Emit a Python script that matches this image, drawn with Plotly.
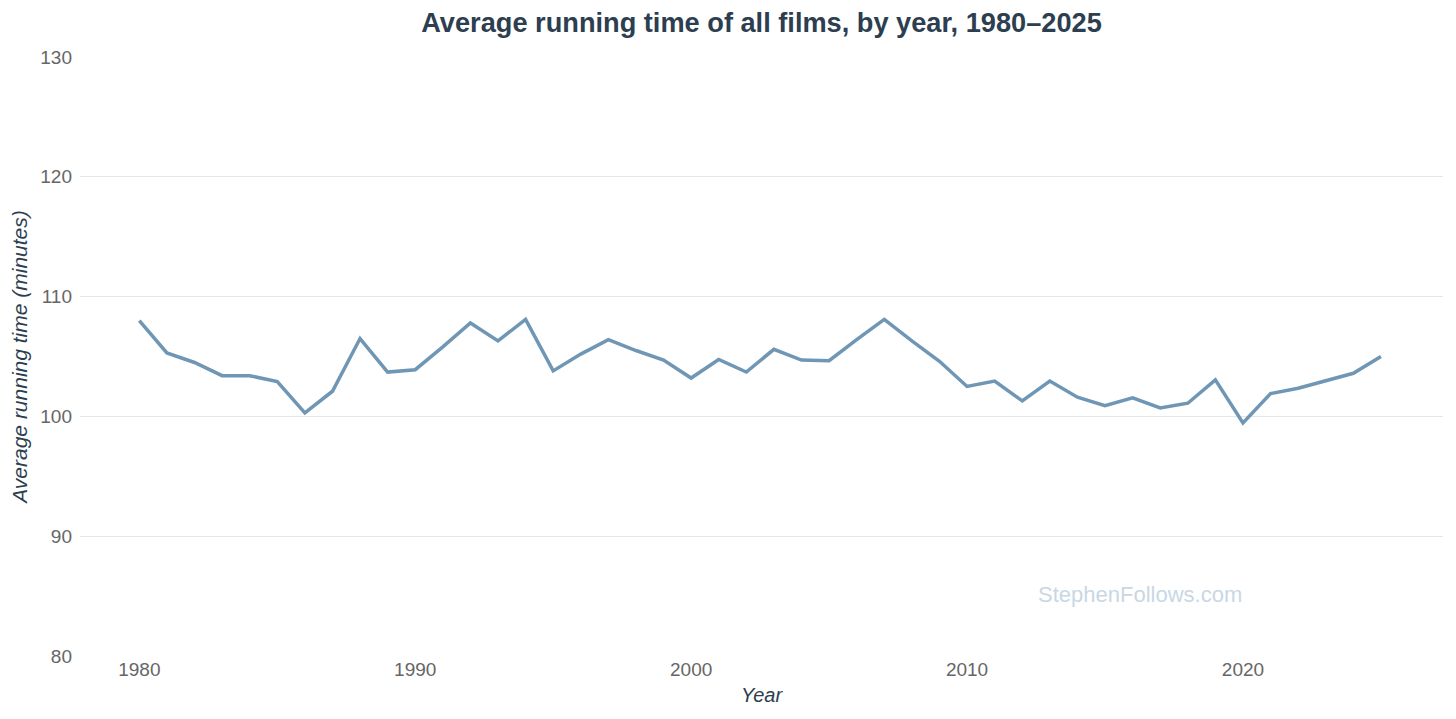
import plotly.graph_objects as go

years = list(range(1980, 2026))
avg_runtime = [
    108.0, 105.3, 104.5, 103.4, 103.4, 102.9, 100.3, 102.1, 106.5, 103.7,
    103.9, 105.8, 107.8, 106.3, 108.1, 103.8, 105.2, 106.4, 105.5, 104.7,
    103.2, 104.75, 103.7, 105.6, 104.7, 104.65, 106.4, 108.1, 106.3, 104.6,
    102.5, 102.95, 101.3, 102.95, 101.6, 100.9, 101.55, 100.7, 101.1, 103.05,
    99.45, 101.9, 102.35, 103.0, 103.6, 105.0,
]
y_ticks = [80, 90, 100, 110, 120, 130]
x_ticks = [1980, 1990, 2000, 2010, 2020]

FONT = "Liberation Sans, Arial, sans-serif"
W, H = 1448, 711

fig = go.Figure()
fig.add_trace(go.Scatter(
    x=years, y=avg_runtime, mode="lines",
    line=dict(color="#6f96b4", width=3.5),
    hoverinfo="x+y", showlegend=False,
))

fig.update_layout(
    width=W, height=H,
    margin=dict(l=72, r=13, t=49, b=63),
    paper_bgcolor="white", plot_bgcolor="white",
    font=dict(family=FONT, color="#666666", size=19),
    title=dict(
        text="<b>Average running time of all films, by year, 1980–2025</b>",
        x=0.5, xref="paper", xanchor="center",
        y=1 - 14 / H, yref="container", yanchor="middle",
        font=dict(family=FONT, size=27.2, color="#2c3e50"),
    ),
    xaxis=dict(
        range=[1977.85, 2027.25], automargin=False,
        tickvals=x_ticks, ticktext=[str(v) for v in x_ticks],
        showgrid=False, zeroline=False, showline=False,
        ticks="", tickfont=dict(size=19, color="#666666"),
        title=dict(text="<i>Year</i>", font=dict(size=20, color="#2c3e50"), standoff=8),
    ),
    yaxis=dict(
        range=[80, 130], automargin=False,
        tickvals=y_ticks, ticktext=[str(v) for v in y_ticks],
        showgrid=True, gridcolor="#e6e6e6", gridwidth=1,
        zeroline=False, showline=False, ticks="",
        ticklabelstandoff=7,
        tickfont=dict(size=19, color="#666666"),
        title=dict(text="<i>Average running time (minutes)</i>",
                   font=dict(size=21, color="#2c3e50"), standoff=11),
    ),
    annotations=[dict(
        text="StephenFollows.com", x=0.778, y=0.1035, xref="paper", yref="paper",
        xanchor="center", yanchor="middle", showarrow=False,
        font=dict(family=FONT, size=22, color="#c9d7e4"),
    )],
)

fig.write_html("out.html")
